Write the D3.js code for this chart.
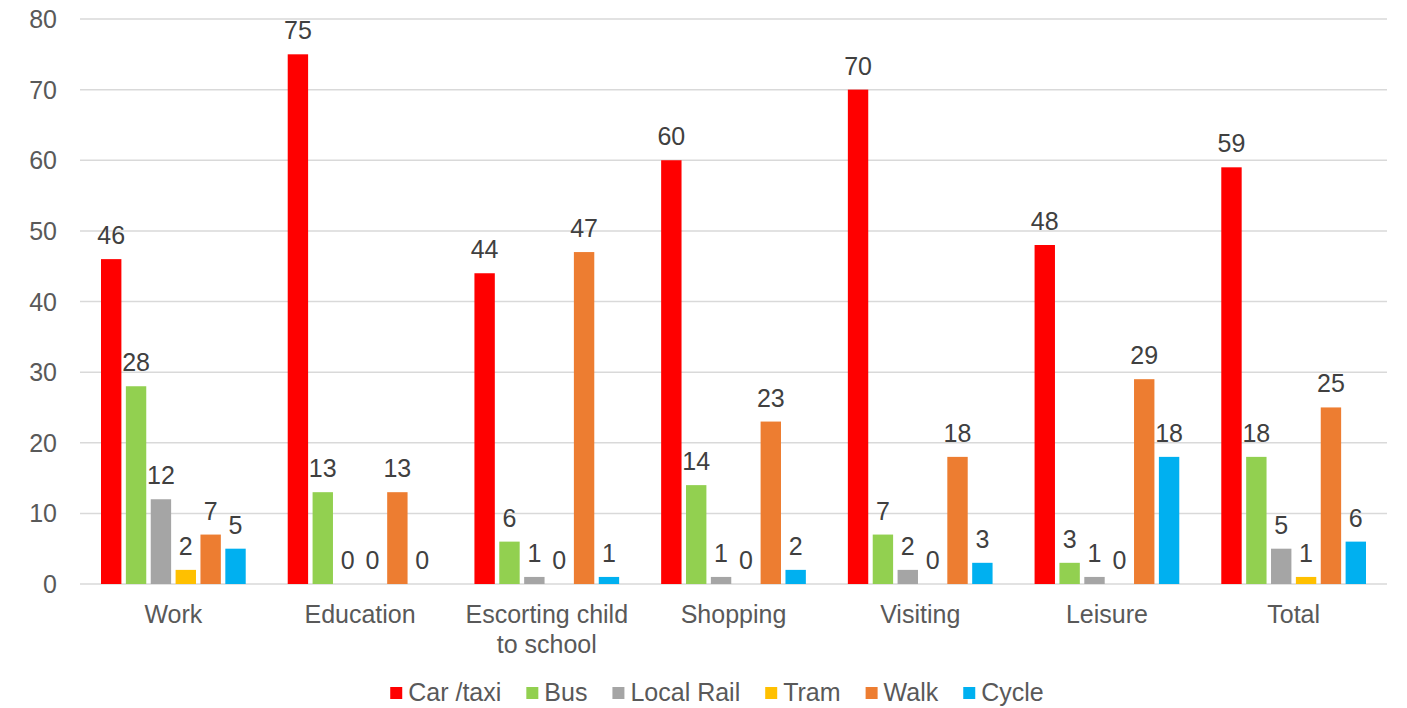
<!DOCTYPE html>
<html>
<head>
<meta charset="utf-8">
<script src="https://cdn.jsdelivr.net/npm/d3@7"></script>
<style>
  body { margin: 0; background: #fff; }
  text { font-family: "Liberation Sans", Arial, sans-serif; }
</style>
</head>
<body>
<div id="chart"></div>
<script>
// data
const categories = ["Work", "Education", "Escorting child\nto school", "Shopping", "Visiting", "Leisure", "Total"];
const seriesNames = ["Car /taxi", "Bus", "Local Rail", "Tram", "Walk", "Cycle"];
const carTaxi   = [46, 75, 44, 60, 70, 48, 59];
const bus       = [28, 13, 6, 14, 7, 3, 18];
const localRail = [12, 0, 1, 1, 2, 1, 5];
const tram      = [2, 0, 0, 0, 0, 0, 1];
const walk      = [7, 13, 47, 23, 18, 29, 25];
const cycle     = [5, 0, 1, 2, 3, 18, 6];
const yTicks = [0, 10, 20, 30, 40, 50, 60, 70, 80];
const colors = ["#ff0000", "#92d050", "#a5a5a5", "#ffc000", "#ed7d31", "#00b0f0"];

const allSeries = [carTaxi, bus, localRail, tram, walk, cycle];

const WIDTH = 1407, HEIGHT = 708;
const svg = d3.select("#chart").append("svg")
  .attr("width", WIDTH).attr("height", HEIGHT);

const x0 = d3.scaleBand().domain(categories).range([80, 1387]).padding(0);
const x1 = d3.scaleBand().domain(seriesNames)
  .range([21, x0.bandwidth() - 21]).paddingInner(0.18).paddingOuter(0);
const y = d3.scaleLinear().domain([0, 80]).range([584, 19]);

// gridlines
svg.append("g").selectAll("line")
  .data(yTicks).enter().append("line")
  .attr("x1", 80).attr("x2", 1387)
  .attr("y1", d => y(d)).attr("y2", d => y(d))
  .attr("stroke", "#d9d9d9").attr("stroke-width", 1.5);

// y tick labels
svg.append("g").selectAll("text")
  .data(yTicks).enter().append("text")
  .attr("x", 57).attr("y", d => y(d))
  .attr("dy", "0.36em")
  .attr("text-anchor", "end")
  .attr("font-size", 25)
  .attr("fill", "#595959")
  .text(d => d);

// bars
const groups = svg.append("g").selectAll("g")
  .data(categories).enter().append("g")
  .attr("transform", d => `translate(${x0(d)},0)`);

groups.selectAll("rect")
  .data((c, i) => seriesNames.map((s, j) => ({ s, j, v: allSeries[j][i] })))
  .enter().append("rect")
  .attr("x", d => x1(d.s))
  .attr("width", x1.bandwidth())
  .attr("y", d => y(d.v))
  .attr("height", d => y(0) - y(d.v))
  .attr("fill", d => colors[d.j]);

// value labels
groups.selectAll("text")
  .data((c, i) => seriesNames.map((s, j) => ({ s, j, v: allSeries[j][i] })))
  .enter().append("text")
  .attr("x", d => x1(d.s) + x1.bandwidth() / 2)
  .attr("y", d => y(d.v) - 15)
  .attr("text-anchor", "middle")
  .attr("font-size", 25)
  .attr("fill", "#404040")
  .text(d => d.v);

// category labels
svg.append("g").selectAll("text")
  .data(categories).enter().append("text")
  .attr("x", d => x0(d) + x0.bandwidth() / 2)
  .attr("y", 623)
  .attr("text-anchor", "middle")
  .attr("font-size", 25)
  .attr("fill", "#595959")
  .each(function(d) {
    d3.select(this).selectAll("tspan")
      .data(d.split("\n")).enter().append("tspan")
      .attr("x", x0(d) + x0.bandwidth() / 2)
      .attr("dy", (t, k) => k === 0 ? 0 : 30)
      .text(t => t);
  });

// legend
const legend = svg.append("g");
const items = legend.selectAll("g")
  .data(seriesNames).enter().append("g");
items.append("rect")
  .attr("width", 12).attr("height", 12)
  .attr("y", 687)
  .attr("fill", (d, i) => colors[i]);
items.append("text")
  .attr("x", 18).attr("y", 701)
  .attr("font-size", 25)
  .attr("fill", "#595959")
  .text(d => d);

let pos = 0;
const offsets = [];
items.each(function() {
  offsets.push(pos);
  const w = 18 + d3.select(this).select("text").node().getComputedTextLength();
  pos += w + 25;
});
const total = pos - 25;
const start = 717 - total / 2;
items.attr("transform", (d, i) => `translate(${start + offsets[i]},0)`);
</script>
</body>
</html>
